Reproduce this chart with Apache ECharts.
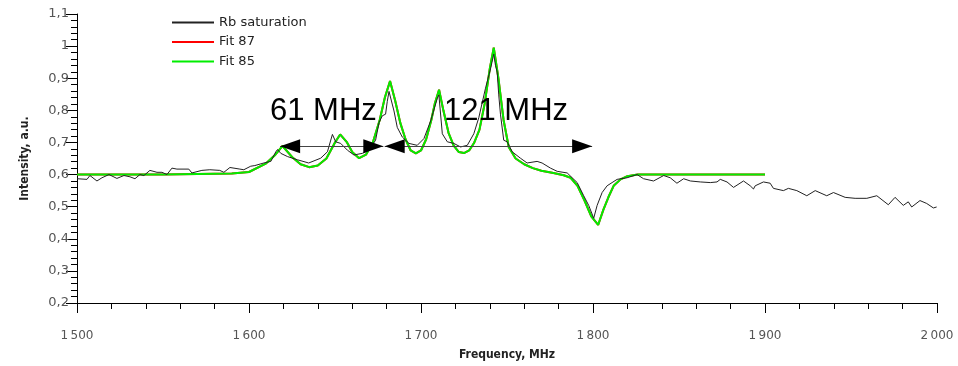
<!DOCTYPE html>
<html>
<head>
<meta charset="utf-8">
<script src="https://cdn.jsdelivr.net/npm/echarts@6/dist/echarts.min.js"></script>
<style>
html,body{margin:0;padding:0;background:#fff;}
#chart{width:958px;height:366px;}
</style>
</head>
<body>
<div id="chart"></div>
<script>
// ---- data ----
const xTicks = [1500, 1600, 1700, 1800, 1900, 2000];
const yTicks = [0.2, 0.3, 0.4, 0.5, 0.6, 0.7, 0.8, 0.9, 1.0, 1.1];

const rbFreq = [1500,1505.8,1507.5,1511.6,1514.5,1518.6,1523.2,1527.3,1530.8,1533.7,1536.6,1538.9,1542.4,1546.5,1549.4,1552.3,1555.2,1558.1,1565.0,1566.8,1572.6,1577.2,1583.0,1585.4,1588.9,1594.7,1597.0,1601.0,1603.4,1608.6,1612.7,1615.6,1616.6,1618.5,1622.4,1628.2,1634.7,1641.7,1645.6,1648.5,1650.4,1653.3,1657.2,1661.0,1665.9,1669.7,1673.6,1675.6,1677.5,1679.4,1680.4,1681.4,1684.3,1686.2,1689.1,1693.0,1697.8,1701.7,1705.6,1709.5,1710.4,1712.4,1715.3,1719.1,1723.0,1726.9,1730.7,1733.6,1737.5,1740.4,1742.3,1743.3,1744.3,1745.2,1746.2,1748.1,1750.1,1753.0,1757.8,1761.7,1767.5,1770.4,1775.3,1779.2,1785.0,1790.8,1794.6,1797.5,1800.4,1802.4,1805.3,1808.2,1811.1,1814.0,1819.8,1825.6,1829.4,1835.2,1841.1,1844.9,1848.8,1852.7,1856.6,1862.4,1868.2,1872.1,1874.0,1877.9,1881.7,1887.5,1891.4,1893.3,1894.3,1899.1,1903.0,1904.9,1910.7,1913.6,1918.5,1924.3,1929.2,1935.9,1939.8,1946.6,1952.4,1959.2,1965.0,1971.7,1975.6,1980.4,1983.3,1985.3,1990.1,1994.0,1997.9,1999.8];
const rbInt = [0.587,0.585,0.597,0.580,0.590,0.600,0.588,0.597,0.593,0.587,0.600,0.597,0.613,0.607,0.607,0.600,0.620,0.617,0.617,0.605,0.613,0.615,0.613,0.607,0.622,0.617,0.615,0.626,0.628,0.636,0.641,0.671,0.678,0.666,0.656,0.646,0.636,0.651,0.671,0.725,0.702,0.697,0.676,0.661,0.666,0.676,0.707,0.762,0.783,0.788,0.828,0.859,0.798,0.747,0.717,0.697,0.691,0.712,0.767,0.838,0.848,0.727,0.702,0.697,0.686,0.691,0.727,0.777,0.869,0.929,0.975,0.940,0.919,0.848,0.788,0.707,0.702,0.671,0.651,0.636,0.641,0.636,0.620,0.610,0.605,0.575,0.534,0.504,0.464,0.504,0.544,0.565,0.575,0.585,0.590,0.600,0.587,0.580,0.597,0.590,0.573,0.587,0.580,0.577,0.575,0.577,0.585,0.577,0.560,0.580,0.565,0.555,0.565,0.577,0.573,0.557,0.550,0.557,0.550,0.534,0.550,0.534,0.544,0.529,0.526,0.526,0.534,0.506,0.529,0.504,0.515,0.499,0.519,0.510,0.496,0.499];

const fitFreq = [1500,1550,1590,1600,1610,1615,1619.5,1625,1630,1635,1640,1645,1650,1653,1657,1660,1664,1668,1672,1676,1679,1682,1685,1688,1691,1694,1697,1700,1703,1706,1708,1710.5,1713,1716,1719,1722,1725,1728,1731,1734,1737,1740,1742.3,1745,1748,1751,1755,1760,1765,1770,1777,1783,1787,1791,1795,1799,1803,1806,1809,1812,1816,1820,1826,1860,1900];
const fit85Int = [0.600,0.600,0.603,0.608,0.635,0.660,0.689,0.655,0.632,0.623,0.628,0.650,0.700,0.725,0.700,0.670,0.651,0.662,0.700,0.770,0.840,0.891,0.830,0.760,0.710,0.675,0.666,0.675,0.710,0.770,0.820,0.864,0.800,0.730,0.690,0.670,0.667,0.675,0.700,0.740,0.820,0.930,0.995,0.900,0.770,0.686,0.650,0.632,0.620,0.612,0.605,0.598,0.590,0.565,0.520,0.470,0.443,0.490,0.530,0.565,0.585,0.595,0.600,0.600,0.600];
const fit87Int = [0.600,0.600,0.603,0.608,0.635,0.660,0.689,0.655,0.632,0.623,0.628,0.650,0.700,0.725,0.700,0.670,0.651,0.662,0.700,0.770,0.840,0.891,0.830,0.760,0.710,0.675,0.666,0.675,0.710,0.770,0.820,0.864,0.800,0.730,0.690,0.670,0.667,0.675,0.700,0.740,0.820,0.930,0.995,0.900,0.770,0.686,0.650,0.632,0.620,0.612,0.605,0.598,0.590,0.565,0.520,0.470,0.443,0.490,0.530,0.565,0.585,0.595,0.600,0.600,0.600];

// annotation arrows (frequency span, level)
const arrow61 = [1618.1, 1678.1];
const arrow121 = [1678.9, 1799.5];
const arrowLevel = 0.688;

function pairs(xs, ys){ return xs.map((x,i)=>[x, ys[i]]); }

const chart = echarts.init(document.getElementById('chart'), null, {renderer:'canvas'});
const axisFont = '"DejaVu Sans", sans-serif';
const nameFont = '"DejaVu Sans Condensed", "Liberation Sans Narrow", "DejaVu Sans", sans-serif';

function headLeft(f){ return {coord:[f, arrowLevel], symbol:'triangle', symbolRotate: 90, symbolSize:[14,20], symbolOffset:[10,0]}; }
function headRight(f){ return {coord:[f, arrowLevel], symbol:'triangle', symbolRotate: -90, symbolSize:[14,20], symbolOffset:[-10,0]}; }

const option = {
  animation: false,
  backgroundColor: '#ffffff',
  grid: {left: 77, right: 21, top: 14, bottom: 56, containLabel: false},
  legend: {
    orient: 'vertical', left: 167, top: 11,
    icon: 'rect', itemWidth: 42, itemHeight: 2, itemGap: 6.5,
    textStyle: {fontFamily: axisFont, fontSize: 13, color: '#222'},
    data: ['Rb saturation', 'Fit 87', 'Fit 85']
  },
  xAxis: {
    type: 'value', min: xTicks[0], max: xTicks[xTicks.length-1], interval: 100,
    name: 'Frequency, MHz', nameLocation: 'middle', nameGap: 46,
    nameTextStyle: {fontFamily: nameFont, fontWeight: 'bold', fontSize: 12, color: '#222'},
    axisLine: {lineStyle: {color: '#000', width: 1}},
    axisTick: {show: true, length: 10, lineStyle: {color: '#000'}},
    minorTick: {show: true, splitNumber: 5, length: 6, lineStyle: {color: '#000'}},
    splitLine: {show: false},
    axisLabel: {fontFamily: axisFont, fontSize: 12, color: '#555', margin: 27,
      formatter: v => { const s = String(Math.round(v)); return s.length > 3 ? s.slice(0, s.length-3) + '\u2009' + s.slice(-3) : s; }}
  },
  yAxis: {
    type: 'value', min: yTicks[0], max: yTicks[yTicks.length-1], interval: 0.1,
    name: 'Intensity, a.u.', nameLocation: 'middle', nameGap: 46,
    nameTextStyle: {fontFamily: nameFont, fontWeight: 'bold', fontSize: 12, color: '#222'},
    axisLine: {show: true, lineStyle: {color: '#000', width: 1}},
    axisTick: {show: true, length: 11, lineStyle: {color: '#000'}},
    minorTick: {show: true, splitNumber: 5, length: 6, lineStyle: {color: '#000'}},
    splitLine: {show: false},
    axisLabel: {fontFamily: axisFont, fontSize: 13, color: '#555', margin: 8,
      formatter: v => { const r = Math.round(v*10)/10; return (r % 1 === 0 ? String(r) : r.toFixed(1)).replace('.', ','); }}
  },
  series: [
    {
      name: 'Rb saturation', type: 'line', symbol: 'none', z: 3,
      lineStyle: {color: '#222', width: 1}, itemStyle: {color: '#222'},
      data: pairs(rbFreq, rbInt),
      markLine: {
        silent: true, animation: false,
        symbol: ['none', 'none'],
        lineStyle: {color: '#444', width: 1, type: 'solid'},
        label: {show: false},
        data: [
          [{coord: [arrow61[0], arrowLevel]}, {coord: [arrow61[1], arrowLevel]}],
          [{coord: [arrow121[0], arrowLevel]}, {coord: [arrow121[1], arrowLevel]}]
        ]
      },
      markPoint: {
        silent: true, animation: false,
        itemStyle: {color: '#000'},
        label: {show: false},
        data: [headLeft(arrow61[0]), headRight(arrow61[1]), headLeft(arrow121[0]), headRight(arrow121[1])]
      }
    },
    {
      name: 'Fit 87', type: 'line', symbol: 'none', z: 2,
      lineStyle: {color: '#ff0000', width: 2}, itemStyle: {color: '#ff0000'},
      data: pairs(fitFreq, fit87Int)
    },
    {
      name: 'Fit 85', type: 'line', symbol: 'none', z: 2,
      lineStyle: {color: '#00ee00', width: 2}, itemStyle: {color: '#00ee00'},
      data: pairs(fitFreq, fit85Int)
    }
  ],
  graphic: [
    {type: 'text', left: 270, top: 96, z: 10, silent: true,
     style: {text: '61 MHz', font: '31px "Liberation Sans", Arial, sans-serif', fill: '#000'}},
    {type: 'text', left: 444, top: 96, z: 10, silent: true,
     style: {text: '121 MHz', font: '31px "Liberation Sans", Arial, sans-serif', fill: '#000'}}
  ]
};
chart.setOption(option);
</script>
</body>
</html>
